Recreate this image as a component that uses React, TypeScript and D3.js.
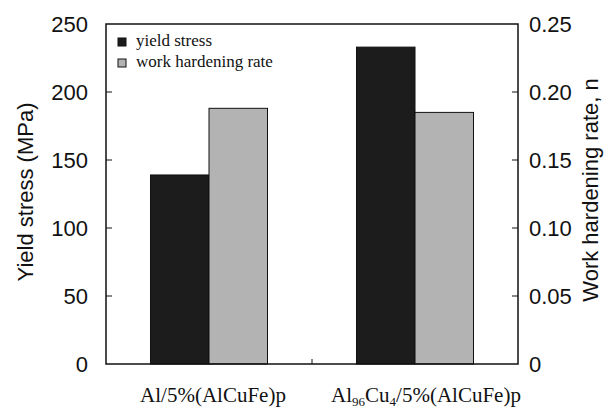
import * as d3 from 'd3';
import React from 'react';

// data
const categories = ['Al/5%(AlCuFe)p', 'Al96Cu4/5%(AlCuFe)p'];
const yieldStress = [139, 233]; // MPa, left axis
const hardeningRate = [0.188, 0.185]; // n, right axis
const leftTicks = [0, 50, 100, 150, 200, 250];
const rightTicks = [0, 0.05, 0.1, 0.15, 0.2, 0.25];
const seriesNames = ['yield stress', 'work hardening rate'];
const seriesColors = ['#1c1c1c', '#b3b3b3'];

const width = 612;
const height = 410;
const marginLeft = 106;
const marginRight = 94;
const marginTop = 24;
const marginBottom = 46;

const App = () => {
  const x0 = marginLeft;
  const x1 = width - marginRight;
  const y0 = height - marginBottom;

  const yL = d3.scaleLinear([0, 250], [y0, marginTop]);
  const yR = d3.scaleLinear([0, 0.25], [y0, marginTop]);

  // one band per material, two bars inside each band
  const xg = d3.scaleBand(categories, [x0, x1]).paddingInner(0.432).paddingOuter(0.216);
  const xs = d3.scaleBand([0, 1], [0, xg.bandwidth()]);

  const sans = 'Liberation Sans, Arial, sans-serif';
  const serif = 'Liberation Serif, Times New Roman, serif';
  const labelShift = [4, 11];
  const sepX = (x0 + x1) / 2;

  return (
    <svg width={width} height={height} style={{ position: 'absolute', left: 0, top: 0 }}>
      <rect width={width} height={height} fill="white" />

      {/* bars */}
      {categories.map((c, i) => (
        <g key={c} transform={`translate(${xg(c)},0)`} stroke="#111" strokeWidth={1}>
          <rect x={xs(0)} y={yL(yieldStress[i])} width={xs.bandwidth()} height={y0 - yL(yieldStress[i])} fill={seriesColors[0]} />
          <rect x={xs(1)} y={yR(hardeningRate[i])} width={xs.bandwidth()} height={y0 - yR(hardeningRate[i])} fill={seriesColors[1]} />
        </g>
      ))}

      {/* frame */}
      <rect x={x0} y={marginTop} width={x1 - x0} height={y0 - marginTop} fill="none" stroke="#111" strokeWidth={1.5} />

      {/* left axis */}
      {leftTicks.map((t) => (
        <g key={'l' + t}>
          {t > 0 && t < 250 && <line x1={x0} x2={x0 + 6} y1={yL(t)} y2={yL(t)} stroke="#111" strokeWidth={1} />}
          <text x={x0 - 18} y={yL(t)} dy="0.36em" textAnchor="end" fontFamily={sans} fontSize={22} fill="#111">
            {t}
          </text>
        </g>
      ))}

      {/* right axis */}
      {rightTicks.map((t) => (
        <g key={'r' + t}>
          {t > 0 && t < 0.25 && <line x1={x1} x2={x1 - 6} y1={yR(t)} y2={yR(t)} stroke="#111" strokeWidth={1} />}
          <text x={x1 + 11} y={yR(t)} dy="0.36em" textAnchor="start" fontFamily={sans} fontSize={22} fill="#111">
            {t === 0 ? '0' : d3.format('.2f')(t)}
          </text>
        </g>
      ))}

      {/* separator tick between groups */}
      <line x1={sepX} x2={sepX} y1={y0} y2={y0 - 5} stroke="#111" strokeWidth={1} />

      {/* axis titles */}
      <text transform={`translate(33,192) rotate(-90)`} textAnchor="middle" fontFamily={sans} fontSize={22} fill="#111">
        Yield stress (MPa)
      </text>
      <text transform={`translate(598,190) rotate(-90)`} textAnchor="middle" fontFamily={sans} fontSize={22} fill="#111">
        Work hardening rate, n
      </text>

      {/* category labels */}
      {categories.map((c, i) => {
        const cx = (xg(c) ?? 0) + xg.bandwidth() / 2 + labelShift[i];
        return (
          <text key={c} x={cx} y={402} textAnchor="middle" fontFamily={serif} fontSize={21} fill="#111">
            {i === 0 ? (
              c
            ) : (
              <>
                Al<tspan fontSize={13} dy={3.5}>96</tspan>
                <tspan dy={-3.5}>Cu</tspan>
                <tspan fontSize={13} dy={3.5}>4</tspan>
                <tspan dy={-3.5}>/5%(AlCuFe)p</tspan>
              </>
            )}
          </text>
        );
      })}

      {/* legend */}
      {seriesNames.map((s, i) => (
        <g key={s} transform={`translate(118,${38 + i * 21})`}>
          <rect width={8} height={8} fill={seriesColors[i]} stroke="#111" strokeWidth={1} />
          <text x={18} y={8} fontFamily={serif} fontSize={17} fill="#111">
            {s}
          </text>
        </g>
      ))}
    </svg>
  );
};

export default App;
